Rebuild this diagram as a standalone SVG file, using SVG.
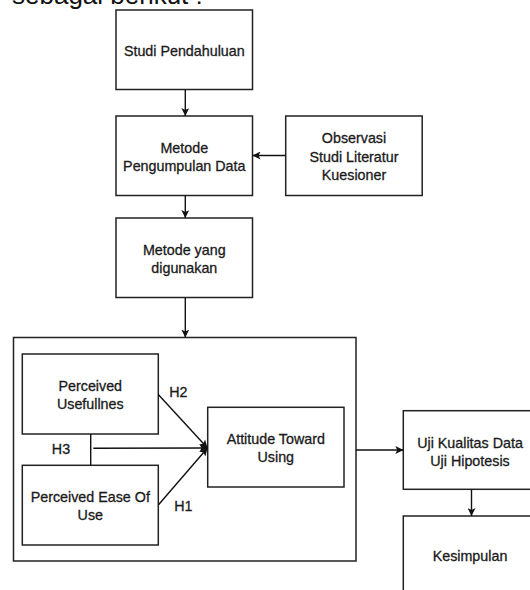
<svg xmlns="http://www.w3.org/2000/svg" width="530" height="590" viewBox="0 0 530 590">
<style>
.box{fill:#fff;stroke:#222;stroke-width:1.5}
.t{font-family:"Liberation Sans",Arial,sans-serif;font-size:14.3px;fill:#1a1a1a;stroke:#1a1a1a;stroke-width:0.3;text-anchor:middle;dominant-baseline:central}
.c{fill:none;stroke:#111;stroke-width:1.4}
</style>
<defs>
<marker id="ah" viewBox="0 0 10 10" refX="10" refY="5" markerWidth="8" markerHeight="8" markerUnits="userSpaceOnUse" orient="auto">
<path d="M0,0 L10,5 L0,10 L2.5,5 Z" fill="#111"/>
</marker>
</defs>
<rect width="530" height="590" fill="#fff"/>
<text x="12" y="4" style="font-family:'Liberation Sans',Arial,sans-serif;font-size:26px;fill:#111">sebagai berikut :</text>

<g id="container"><rect class="box" x="13.5" y="337.5" width="342.5" height="223.5"/></g>

<g id="studi"><rect class="box" x="116" y="10" width="136.5" height="79.5"/><text class="t" x="184.3" y="51">Studi Pendahuluan</text></g>
<g id="metode-pd"><rect class="box" x="116" y="116" width="136.5" height="79.5"/><text class="t" x="184.3" y="147.7">Metode</text><text class="t" x="184.3" y="165.7">Pengumpulan Data</text></g>
<g id="observasi"><rect class="box" x="285.7" y="116" width="136.5" height="79.5"/><text class="t" x="354" y="137.7">Observasi</text><text class="t" x="354" y="156.5">Studi Literatur</text><text class="t" x="354" y="175">Kuesioner</text></g>
<g id="metode-yd"><rect class="box" x="116" y="218" width="136.5" height="79.5"/><text class="t" x="184.3" y="250">Metode yang</text><text class="t" x="184.3" y="268.3">digunakan</text></g>
<g id="pu"><rect class="box" x="22.3" y="354" width="136" height="80"/><text class="t" x="90.3" y="386">Perceived</text><text class="t" x="90.3" y="404">Usefullnes</text></g>
<g id="peou"><rect class="box" x="22.3" y="465.3" width="136" height="79.7"/><text class="t" x="90.3" y="496.7">Perceived Ease Of</text><text class="t" x="90.3" y="515">Use</text></g>
<g id="attitude"><rect class="box" x="207.7" y="407.3" width="136.3" height="79.7"/><text class="t" x="275.8" y="439">Attitude Toward</text><text class="t" x="275.8" y="456.7">Using</text></g>
<g id="uji"><rect class="box" x="403.3" y="410.7" width="136.5" height="78.6"/><text class="t" x="470" y="442.7">Uji Kualitas Data</text><text class="t" x="470" y="461">Uji Hipotesis</text></g>
<g id="kesimpulan"><rect class="box" x="403.3" y="516" width="136.5" height="80"/><text class="t" x="470" y="555.7">Kesimpulan</text></g>

<g id="connectors">
<line class="c" x1="185.3" y1="89.5" x2="185.3" y2="116" marker-end="url(#ah)"/>
<line class="c" x1="285.7" y1="155.5" x2="252.5" y2="155.5" marker-end="url(#ah)"/>
<line class="c" x1="185.3" y1="195.5" x2="185.3" y2="218" marker-end="url(#ah)"/>
<line class="c" x1="185.3" y1="297.5" x2="185.3" y2="337.5" marker-end="url(#ah)"/>
<line class="c" x1="90.7" y1="434" x2="90.7" y2="465.3"/>
<line class="c" x1="93.3" y1="448.3" x2="207.5" y2="448" marker-end="url(#ah)"/>
<line class="c" x1="158.3" y1="394.5" x2="207.5" y2="448" marker-end="url(#ah)"/>
<line class="c" x1="158.3" y1="505" x2="207.5" y2="448" marker-end="url(#ah)"/>
<line class="c" x1="356" y1="450" x2="403.3" y2="450" marker-end="url(#ah)"/>
<line class="c" x1="471.5" y1="489.3" x2="471.5" y2="516" marker-end="url(#ah)"/>
<text class="t" x="178.3" y="391.7">H2</text>
<text class="t" x="61" y="449">H3</text>
<text class="t" x="183.3" y="506">H1</text>
</g>
</svg>
